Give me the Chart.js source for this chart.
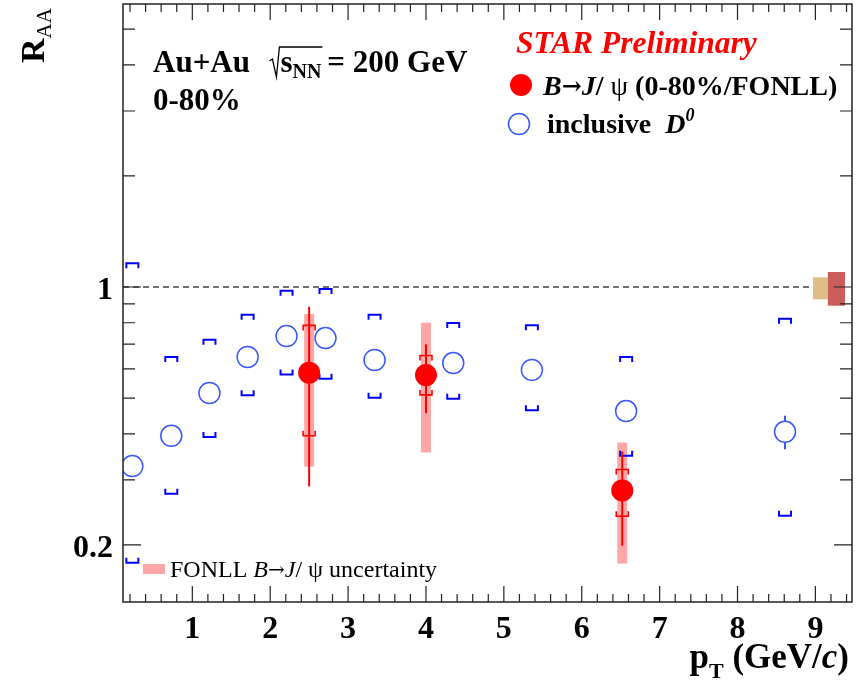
<!DOCTYPE html>
<html>
<head>
<meta charset="utf-8">
<script src="https://cdn.jsdelivr.net/npm/chart.js@4.4.1/dist/chart.umd.min.js"></script>
<style>
  html, body { margin: 0; padding: 0; background: #fff; }
  #chart { display: block; }
</style>
</head>
<body>
<canvas id="chart" width="865" height="683"></canvas>
<script>
// B -> J/psi RAA (0-80%/FONLL)
const bPt = [2.5, 4.0, 6.52];
const bRaa = [0.586, 0.577, 0.281];
const bStatLo = [0.288, 0.455, 0.199];
const bStatHi = [0.884, 0.699, 0.358];
const bSysLo = [0.395, 0.510, 0.239];
const bSysHi = [0.787, 0.652, 0.320];
const fonllLo = [0.326, 0.356, 0.178];
const fonllHi = [0.845, 0.800, 0.379];

// inclusive D0 RAA
const dPt = [0.23, 0.73, 1.22, 1.71, 2.21, 2.71, 3.34, 4.35, 5.36, 6.57, 8.61];
const dRaa = [0.327, 0.395, 0.516, 0.646, 0.736, 0.727, 0.634, 0.622, 0.596, 0.461, 0.405];
const dStatLo = [0.315, 0.381, 0.499, 0.625, 0.712, 0.703, 0.613, 0.602, 0.576, 0.444, 0.363];
const dStatHi = [0.339, 0.409, 0.533, 0.667, 0.760, 0.751, 0.655, 0.642, 0.616, 0.478, 0.448];
const dSysLo = [0.179, 0.275, 0.392, 0.509, 0.579, 0.564, 0.501, 0.498, 0.463, 0.349, 0.240];
const dSysHi = [1.160, 0.646, 0.720, 0.841, 0.977, 0.987, 0.841, 0.799, 0.788, 0.646, 0.820];

// global normalisation uncertainties at RAA = 1
const globPtLo = [8.97, 9.16];
const globPtHi = [9.16, 9.38];
const globLo = [0.926, 0.890];
const globHi = [1.062, 1.098];
const globColors = ['#dfbb85', '#cd5c5c'];

// axis ticks
const xTickVals = [1, 2, 3, 4, 5, 6, 7, 8, 9];
const yTickVals = [0.2, 1];
const yMinorVals = [0.3, 0.4, 0.5, 0.6, 0.7, 0.8, 0.9, 2, 3, 4, 5];

const SERIF = "'Liberation Serif', 'DejaVu Serif', serif";
const ARROW = "'DejaVu Serif', serif";

function runs(ctx, x, y, parts) {
    let cx = x;
    for (const [t, f, dy] of parts) {
        ctx.font = f;
        ctx.fillText(t, cx, y + (dy || 0));
        cx += ctx.measureText(t).width;
    }
    return cx;
}

function runsWidth(ctx, parts) {
    let w = 0;
    for (const [t, f] of parts) {
        ctx.font = f;
        w += ctx.measureText(t).width;
    }
    return w;
}

function bracket(ctx, px, py, dir, w, h) {
    ctx.beginPath();
    ctx.moveTo(px - w / 2, py + dir * h);
    ctx.lineTo(px - w / 2, py);
    ctx.lineTo(px + w / 2, py);
    ctx.lineTo(px + w / 2, py + dir * h);
    ctx.stroke();
}

const rootStyle = {
    id: 'rootStyle',
    beforeDatasetsDraw(chart) {
        const ctx = chart.ctx;
        const a = chart.chartArea;
        const x = chart.scales.x, y = chart.scales.y;
        ctx.save();
        ctx.beginPath();
        ctx.rect(a.left, a.top, a.right - a.left, a.bottom - a.top);
        ctx.clip();

        // dashed unity line
        ctx.strokeStyle = '#444';
        ctx.lineWidth = 1.5;
        ctx.setLineDash([6, 4]);
        ctx.beginPath();
        ctx.moveTo(a.left, y.getPixelForValue(1));
        ctx.lineTo(x.getPixelForValue(globPtLo[0]), y.getPixelForValue(1));
        ctx.stroke();
        ctx.setLineDash([]);

        // global uncertainty boxes
        for (let i = 0; i < globPtLo.length; i++) {
            const x0 = x.getPixelForValue(globPtLo[i]), x1 = x.getPixelForValue(globPtHi[i]);
            const y0 = y.getPixelForValue(globHi[i]), y1 = y.getPixelForValue(globLo[i]);
            ctx.fillStyle = globColors[i];
            ctx.fillRect(x0, y0, x1 - x0, y1 - y0);
        }

        // FONLL uncertainty bands
        ctx.fillStyle = 'rgba(255, 60, 60, 0.45)';
        for (let i = 0; i < bPt.length; i++) {
            const px = x.getPixelForValue(bPt[i]);
            const y0 = y.getPixelForValue(fonllHi[i]), y1 = y.getPixelForValue(fonllLo[i]);
            ctx.fillRect(px - 5, y0, 10, y1 - y0);
        }

        // D0 systematic brackets
        ctx.strokeStyle = '#0000ff';
        ctx.lineWidth = 2;
        for (let i = 0; i < dPt.length; i++) {
            const px = x.getPixelForValue(dPt[i]);
            bracket(ctx, px, y.getPixelForValue(dSysHi[i]), 1, 12, 5);
            bracket(ctx, px, y.getPixelForValue(dSysLo[i]), -1, 12, 5);
        }

        // D0 statistical errors (only outside the marker)
        const r = 10.5;
        for (let i = 0; i < dPt.length; i++) {
            const px = x.getPixelForValue(dPt[i]);
            const pc = y.getPixelForValue(dRaa[i]);
            const ph = y.getPixelForValue(dStatHi[i]);
            const pl = y.getPixelForValue(dStatLo[i]);
            ctx.strokeStyle = '#3a56ff';
            ctx.lineWidth = 2;
            if (pc - ph > r) {
                ctx.beginPath(); ctx.moveTo(px, ph); ctx.lineTo(px, pc - r); ctx.stroke();
            }
            if (pl - pc > r) {
                ctx.beginPath(); ctx.moveTo(px, pc + r); ctx.lineTo(px, pl); ctx.stroke();
            }
        }

        // B->J/psi stat errors and sys brackets
        ctx.strokeStyle = '#ff0000';
        for (let i = 0; i < bPt.length; i++) {
            const px = x.getPixelForValue(bPt[i]);
            ctx.lineWidth = 2;
            ctx.beginPath();
            ctx.moveTo(px, y.getPixelForValue(bStatHi[i]));
            ctx.lineTo(px, y.getPixelForValue(bStatLo[i]));
            ctx.stroke();
            ctx.lineWidth = 1.6;
            bracket(ctx, px, y.getPixelForValue(bSysHi[i]), 1, 12, 5);
            bracket(ctx, px, y.getPixelForValue(bSysLo[i]), -1, 12, 5);
        }
        ctx.restore();
    },
    afterDraw(chart) {
        const ctx = chart.ctx;
        const a = chart.chartArea;
        const x = chart.scales.x, y = chart.scales.y;
        ctx.save();

        // frame
        ctx.strokeStyle = '#222';
        ctx.lineWidth = 1.5;
        ctx.strokeRect(a.left, a.top, a.right - a.left, a.bottom - a.top);

        // x ticks (bottom and top, inward)
        ctx.lineWidth = 1.2;
        ctx.beginPath();
        for (let v = 0.2; v < x.max; v += 0.2) {
            const val = Math.round(v * 10) / 10;
            if (val < x.min) continue;
            const px = x.getPixelForValue(val);
            const len = Math.abs(val - Math.round(val)) < 1e-6 ? 16 : 8;
            ctx.moveTo(px, a.bottom); ctx.lineTo(px, a.bottom - len);
            ctx.moveTo(px, a.top); ctx.lineTo(px, a.top + len);
        }
        // y ticks (left and right, inward)
        for (const v of yTickVals.concat(yMinorVals)) {
            const py = y.getPixelForValue(v);
            const len = yTickVals.includes(v) ? 18 : 12;
            ctx.moveTo(a.left, py); ctx.lineTo(a.left + len, py);
            ctx.moveTo(a.right, py); ctx.lineTo(a.right - len, py);
        }
        ctx.stroke();

        ctx.fillStyle = '#000';
        ctx.textBaseline = 'alphabetic';
        ctx.textAlign = 'left';

        // y title R_AA
        ctx.save();
        ctx.translate(44, 63);
        ctx.rotate(-Math.PI / 2);
        runs(ctx, 0, 0, [['R', 'bold 34px ' + SERIF, 0], ['AA', '21px ' + SERIF, 7]]);
        ctx.restore();

        // x title p_T (GeV/c)
        const b35 = 'bold 35px ' + SERIF;
        const xt = [['p', b35, 0], ['T', 'bold 22px ' + SERIF, 10], [' (GeV/', b35, 0],
                    ['c', 'italic bold 35px ' + SERIF, 0], [')', b35, 0]];
        runs(ctx, 849 - runsWidth(ctx, xt), 668, xt);

        // collision system
        const bold31 = 'bold 31px ' + SERIF;
        let cx = runs(ctx, 153, 72, [['Au+Au  ', bold31, 0]]);
        const rx = cx + 4;
        cx = runs(ctx, rx + 11, 72, [['s', bold31, 0], ['NN', 'bold 20px ' + SERIF, 6]]);
        ctx.strokeStyle = '#000';
        ctx.lineWidth = 1.3;
        ctx.beginPath();
        ctx.moveTo(rx, 61); ctx.lineTo(rx + 3, 59); ctx.lineTo(rx + 7, 77);
        ctx.lineTo(rx + 10, 47); ctx.lineTo(cx + 1, 47);
        ctx.stroke();
        runs(ctx, cx + 6, 72, [['= 200 GeV', bold31, 0]]);
        runs(ctx, 153, 110, [['0-80%', bold31, 0]]);

        // STAR Preliminary
        ctx.fillStyle = '#ff0000';
        runs(ctx, 516, 53, [['STAR Preliminary', 'italic bold 31.5px ' + SERIF, 0]]);

        // legend
        ctx.beginPath();
        ctx.arc(521, 85, 11, 0, Math.PI * 2);
        ctx.fill();
        ctx.strokeStyle = '#3a56ff';
        ctx.lineWidth = 1.5;
        ctx.beginPath();
        ctx.arc(519, 124, 10.5, 0, Math.PI * 2);
        ctx.stroke();

        ctx.fillStyle = '#000';
        const b28 = 'bold 28px ' + SERIF, bi28 = 'italic bold 28px ' + SERIF;
        runs(ctx, 543, 95, [['B', bi28, 0], ['\u2192', 'bold 24px ' + ARROW, -1], ['J', bi28, 0], ['/', b28, 0],
                            [' \u03c8', '28px ' + SERIF, 0], [' (0-80%/FONLL)', b28, 0]]);
        runs(ctx, 547, 133, [['inclusive  ', b28, 0], ['D', bi28, 0], ['0', 'italic bold 18px ' + SERIF, -12]]);

        // FONLL legend
        ctx.fillStyle = 'rgba(255, 60, 60, 0.45)';
        ctx.fillRect(143, 564, 22, 10);
        ctx.fillStyle = '#000';
        const r24 = '24px ' + SERIF, i24 = 'italic 24px ' + SERIF;
        runs(ctx, 170, 577, [['FONLL ', r24, 0], ['B', i24, 0], ['\u2192', '20px ' + ARROW, -1], ['J', i24, 0],
                             ['/ \u03c8 uncertainty', r24, 0]]);
        ctx.restore();
    }
};

new Chart(document.getElementById('chart'), {
    type: 'scatter',
    data: {
        datasets: [{
            label: 'B\u2192J/\u03c8',
            data: bPt.map((p, i) => ({ x: p, y: bRaa[i] })),
            pointRadius: 11,
            pointBackgroundColor: '#ff0000',
            pointBorderWidth: 0,
            showLine: false
        }, {
            label: 'inclusive D0',
            data: dPt.map((p, i) => ({ x: p, y: dRaa[i] })),
            pointRadius: 10.5,
            pointBackgroundColor: 'rgba(0,0,0,0)',
            pointBorderColor: '#3a56ff',
            pointBorderWidth: 1.5,
            showLine: false
        }]
    },
    options: {
        responsive: false,
        animation: false,
        devicePixelRatio: 1,
        layout: { autoPadding: false, padding: { top: 4, right: 13, left: 0, bottom: 0 } },
        plugins: { legend: { display: false }, tooltip: { enabled: false } },
        scales: {
            x: {
                type: 'linear',
                min: 0.11,
                max: 9.47,
                afterFit(s) { s.height = 81; s.paddingLeft = 0; s.paddingRight = 0; },
                afterBuildTicks(s) { s.ticks = xTickVals.map(v => ({ value: v })); },
                grid: { display: false, drawTicks: false },
                border: { display: false },
                ticks: {
                    font: { family: SERIF, size: 32, weight: 'bold' },
                    color: '#000',
                    padding: 9,
                    autoSkip: false,
                    maxRotation: 0,
                    callback: v => String(v)
                }
            },
            y: {
                type: 'logarithmic',
                min: 0.14,
                max: 5.85,
                afterFit(s) { s.width = 123; s.paddingTop = 0; s.paddingBottom = 0; },
                afterBuildTicks(s) { s.ticks = yTickVals.map(v => ({ value: v })); },
                grid: { display: false, drawTicks: false },
                border: { display: false },
                ticks: {
                    font: { family: SERIF, size: 32, weight: 'bold' },
                    color: '#000',
                    padding: 10,
                    labelOffset: 4,
                    autoSkip: false,
                    callback: v => String(v)
                }
            }
        }
    },
    plugins: [rootStyle]
});
</script>
</body>
</html>
